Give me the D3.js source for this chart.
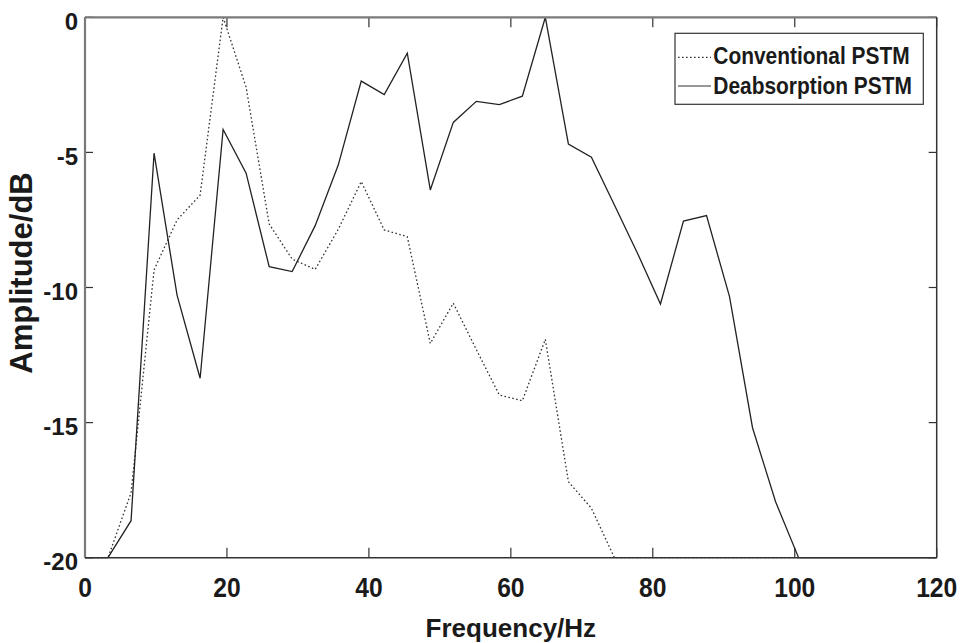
<!DOCTYPE html>
<html>
<head>
<meta charset="utf-8">
<script src="https://cdn.jsdelivr.net/npm/d3@7/dist/d3.min.js"></script>
<style>
  html, body { margin: 0; padding: 0; background: #fff; }
  svg { display: block; }
  text { font-family: "Liberation Sans", Arial, Helvetica, sans-serif; font-weight: bold; fill: #1a1a1a; }
</style>
</head>
<body>
<svg id="chart" width="967" height="643"></svg>
<script>
// Frequency samples (Hz)
const frequency = [0, 3.24, 6.49, 9.73, 12.97, 16.22, 19.46, 22.70, 25.95, 29.19,
  32.43, 35.68, 38.92, 42.16, 45.41, 48.65, 51.89, 55.14, 58.38, 61.62,
  64.86, 68.11, 71.35, 74.59, 77.84, 81.08, 84.32, 87.57, 90.81, 94.05,
  97.30, 100.54, 103.78, 107.03, 110.27, 113.51, 116.76, 120];

// Conventional PSTM amplitude (dB)
const conventional = [-20, -20, -17.6, -9.35, -7.5, -6.58, 0, -2.59, -7.65, -8.95,
  -9.33, -7.85, -6.08, -7.87, -8.12, -12.07, -10.58, -12.3, -13.98, -14.19,
  -11.92, -17.19, -18.17, -20, -20, -20, -20, -20, -20, -20,
  -20, -20, -20, -20, -20, -20, -20, -20];

// Deabsorption PSTM amplitude (dB)
const deabsorption = [-20, -20, -18.63, -5.03, -10.28, -13.36, -4.15, -5.77, -9.23, -9.41,
  -7.71, -5.47, -2.36, -2.86, -1.33, -6.39, -3.89, -3.11, -3.23, -2.92,
  0, -4.69, -5.18, -6.95, -8.73, -10.61, -7.54, -7.34, -10.34, -15.19,
  -17.93, -20, -20, -20, -20, -20, -20, -20];

const xTicks = [0, 20, 40, 60, 80, 100, 120];
const yTicks = [0, -5, -10, -15, -20];
const seriesNames = ["Conventional PSTM", "Deabsorption PSTM"];

const svg = d3.select("#chart");
const L = 85, R = 936.7, T = 17.3, B = 557.7;
const x = d3.scaleLinear().domain([0, 120]).range([L, R]);
const y = d3.scaleLinear().domain([-20, 0]).range([B, T]);

// ticks (inward, on all four sides)
const tickLen = 10;
const tg = svg.append("g").attr("stroke", "#333").attr("stroke-width", 1.2);
xTicks.forEach(t => {
  tg.append("line").attr("x1", x(t)).attr("x2", x(t)).attr("y1", B).attr("y2", B - tickLen);
  tg.append("line").attr("x1", x(t)).attr("x2", x(t)).attr("y1", T).attr("y2", T + tickLen);
});
yTicks.forEach(t => {
  tg.append("line").attr("x1", L).attr("x2", L + tickLen - 2).attr("y1", y(t)).attr("y2", y(t));
  tg.append("line").attr("x1", R).attr("x2", R - tickLen + 2).attr("y1", y(t)).attr("y2", y(t));
});

// data lines
const line = d3.line().x((d, i) => x(frequency[i])).y(d => y(d));
svg.append("path").datum(conventional)
  .attr("d", line).attr("fill", "none")
  .attr("stroke", "#333").attr("stroke-width", 1.3)
  .attr("stroke-dasharray", "1.6,2.4");
svg.append("path").datum(deabsorption)
  .attr("d", line).attr("fill", "none")
  .attr("stroke", "#222").attr("stroke-width", 1.3);

// frame
svg.append("line").attr("x1", L).attr("x2", R).attr("y1", T).attr("y2", T).attr("stroke", "#7a7a7a").attr("stroke-width", 2.2);
svg.append("line").attr("x1", L).attr("x2", L).attr("y1", T).attr("y2", B).attr("stroke", "#7a7a7a").attr("stroke-width", 2.2);
svg.append("line").attr("x1", L).attr("x2", R).attr("y1", B).attr("y2", B).attr("stroke", "#333").attr("stroke-width", 1.5);
svg.append("line").attr("x1", R).attr("x2", R).attr("y1", T).attr("y2", B).attr("stroke", "#333").attr("stroke-width", 1.5);

// tick labels
xTicks.forEach(t => {
  svg.append("text")
    .attr("transform", `translate(${x(t)},${597}) scale(0.88,1)`)
    .attr("text-anchor", "middle")
    .attr("font-size", 28)
    .text(t);
});
yTicks.forEach(t => {
  svg.append("text")
    .attr("x", 78).attr("y", y(t) + 12.6)
    .attr("text-anchor", "end")
    .attr("font-size", 24)
    .text(t);
});

// axis titles
svg.append("text")
  .attr("transform", `translate(${(L + R) / 2},${637})`)
  .attr("text-anchor", "middle")
  .attr("font-size", 26)
  .text("Frequency/Hz");
svg.append("text")
  .attr("transform", `translate(${32},${273}) rotate(-90)`)
  .attr("text-anchor", "middle")
  .attr("font-size", 31)
  .text("Amplitude/dB");

// legend
const lg = svg.append("g");
lg.append("rect").attr("x", 675).attr("y", 33.3).attr("width", 248.3).attr("height", 71)
  .attr("fill", "#fff").attr("stroke", "#333").attr("stroke-width", 1.2);
const legendRows = [
  { name: seriesNames[0], dash: "1.6,2.4", ly: 57.3, ty: 63.5 },
  { name: seriesNames[1], dash: null, ly: 86, ty: 94.3 }
];
legendRows.forEach(r => {
  lg.append("line").attr("x1", 678).attr("x2", 711).attr("y1", r.ly).attr("y2", r.ly)
    .attr("stroke", "#333").attr("stroke-width", 1.2)
    .attr("stroke-dasharray", r.dash);
  lg.append("text")
    .attr("transform", `translate(713.3,${r.ty}) scale(0.91,1)`)
    .attr("font-size", 23)
    .text(r.name);
});
</script>
</body>
</html>
